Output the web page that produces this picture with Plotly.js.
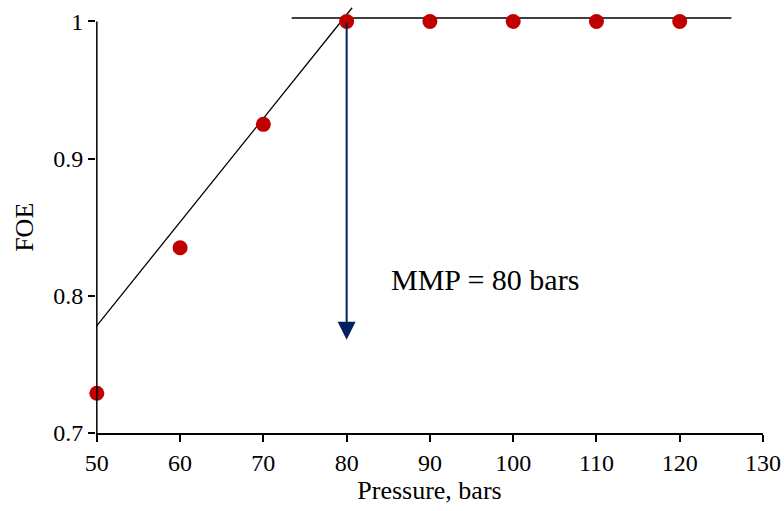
<!DOCTYPE html>
<html>
<head>
<meta charset="utf-8">
<script src="https://cdn.plot.ly/plotly-3.0.1.min.js"></script>
<style>html,body{margin:0;padding:0;background:#fff;}#chart{width:784px;height:511px;}</style>
</head>
<body>
<div id="chart"></div>
<script>
// Data
const pressure = [50, 60, 70, 80, 90, 100, 110, 120];
const foe = [0.729, 0.835, 0.925, 1.0, 1.0, 1.0, 1.0, 1.0];
// Trend line (rising part) endpoints
const trendX = [49.16, 80.66];
const trendY = [0.7719, 1.0100];
// Plateau line
const plateauX = [73.4, 126.2];
const plateauY = [1.0025, 1.0025];
// MMP arrow
const mmpX = 80;
const arrowTop = 1.0;
const arrowTip = 0.768;
const mmpLabel = 'MMP = 80 bars';
const xTitle = 'Pressure, bars';
const yTitle = 'FOE';
const xTicks = [50, 60, 70, 80, 90, 100, 110, 120, 130];
const yTicks = [0.7, 0.8, 0.9, 1.0];
const yTickText = ['0.7', '0.8', '0.9', '1'];

const FAM = 'Liberation Serif';

const traces = [
  {x: trendX, y: trendY, mode: 'lines', line: {color: '#000', width: 1.3}, hoverinfo: 'skip', showlegend: false},
  {x: plateauX, y: plateauY, mode: 'lines', line: {color: '#000', width: 1.5}, hoverinfo: 'skip', showlegend: false},
  {x: pressure, y: foe, mode: 'markers', marker: {color: '#C00000', size: 15}, cliponaxis: false, showlegend: false}
];

const layout = {
  width: 784, height: 511,
  paper_bgcolor: '#fff', plot_bgcolor: '#fff',
  margin: {l: 96.17, r: 20.7, t: 4.5, b: 78},
  font: {family: FAM, color: '#000', size: 24},
  showlegend: false,
  xaxis: {
    range: [49.9, 130], tickvals: xTicks, ticks: 'outside', ticklen: 7, tickwidth: 1.5, tickcolor: '#000',
    showline: true, linecolor: '#000', linewidth: 1.5, showgrid: false, zeroline: false,
    tickfont: {family: FAM, size: 24, color: '#000'},
    title: {text: xTitle, font: {family: FAM, size: 26, color: '#000'}, standoff: 5}
  },
  yaxis: {
    range: [0.7, 1.012], tickvals: yTicks, ticktext: yTickText, ticks: 'outside', ticklen: 7, tickwidth: 1.5, tickcolor: '#000',
    showline: false, showgrid: false, zeroline: false,
    tickfont: {family: FAM, size: 24, color: '#000'}
  },
  shapes: [
    {type: 'line', xref: 'x', yref: 'y', x0: 50, x1: 50, y0: yTicks[0], y1: yTicks[yTicks.length - 1], line: {color: '#000', width: 1.5}}
  ],
  annotations: [
    {x: mmpX, y: arrowTip, ax: mmpX, ay: arrowTop, axref: 'x', ayref: 'y', xref: 'x', yref: 'y', text: '', showarrow: true,
     arrowhead: 2, arrowwidth: 2, arrowsize: 1.8, arrowcolor: '#002060'},
    {x: 96.6, y: 0.812, xref: 'x', yref: 'y', text: mmpLabel, showarrow: false, font: {family: FAM, size: 30, color: '#000'}},
    {x: -0.107, y: (yTicks[0] + yTicks[yTicks.length - 1]) / 2, xref: 'paper', yref: 'y', xanchor: 'center', yanchor: 'middle',
     text: yTitle, textangle: -90, showarrow: false, font: {family: FAM, size: 26, color: '#000'}}
  ]
};

Plotly.newPlot('chart', traces, layout, {displayModeBar: false});
</script>
</body>
</html>
